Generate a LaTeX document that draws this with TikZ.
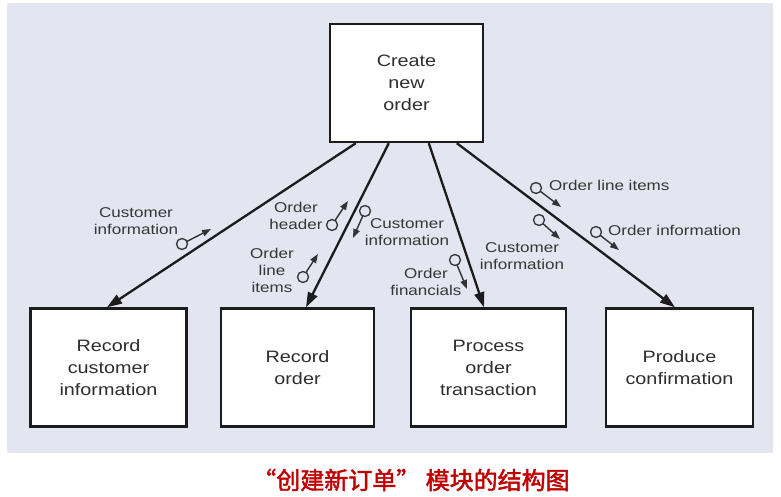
\documentclass[tikz,border=0pt]{standalone}
\usepackage{fontspec}
\setmainfont{Liberation Sans}[FakeStretch=1.2]
\newfontfamily\cjk{Noto Sans CJK SC}[FakeBold=2]
\usetikzlibrary{arrows.meta}
\definecolor{panel}{HTML}{E3E5F0}
\definecolor{ink}{HTML}{1C1C1C}
\definecolor{capred}{HTML}{C00000}

\begin{document}
\begin{tikzpicture}[x=1pt, y=-1pt,
    module/.style={draw=ink, line width=2.4pt, fill=white, inner sep=0pt, minimum height=118pt, align=center, text=ink!92, font=\fontsize{16.5}{22}\selectfont},
    call/.style={draw=ink, line width=2.3pt, -{Triangle[length=15pt, width=10pt]}},
    dot/.style={draw=ink!90, circle, line width=1.3pt, minimum size=11pt, inner sep=0pt},
    flow/.style={draw=ink!90, line width=1.4pt, shorten <=-0.5pt, -{Triangle[length=9pt, width=6.5pt]}},
    lbl/.style={text=ink!88, align=center, inner sep=0pt, font=\fontsize{14.2}{17}\selectfont}]
    \useasboundingbox (0,0) rectangle (781,497);
    \fill[panel] (7,3) rectangle (773,453);

    \node[module, minimum width=153pt] (create) at (406.5,83) {Create\\new\\order};
    \node[module, minimum width=156pt] (cust) at (108.5,367.5) {Record\\customer\\information};
    \node[module, minimum width=153pt] (rec) at (297.5,367.5) {Record\\order};
    \node[module, minimum width=155pt] (proc) at (488.5,367.5) {Process\\order\\transaction};
    \node[module, minimum width=147pt] (conf) at (679.5,367.5) {Produce\\confirmation};

    \draw[call] ([xshift=27pt]create.south west) -- ([xshift=-1.5pt]cust.north);
    \draw[call] ([xshift=60pt]create.south west) -- ([xshift=8.5pt]rec.north);
    \draw[call] ([xshift=100pt]create.south west) -- ([xshift=-4.5pt]proc.north);
    \draw[call] ([xshift=128pt]create.south west) -- ([xshift=-4.5pt]conf.north);

    \node[dot] (d1) at (182,244) {};
    \coordinate (t1) at (211,229);
    \draw[flow] (d1) -- (t1);
    \node[lbl] (l1) at (136,221) {Customer\\information};

    \node[dot] (d2) at (332,225) {};
    \coordinate (t2) at (348,201);
    \draw[flow] (d2) -- (t2);
    \node[lbl] (l2) at (296,216) {Order\\header};

    \node[dot] (d3) at (303,277) {};
    \coordinate (t3) at (318,254);
    \draw[flow] (d3) -- (t3);
    \node[lbl] (l3) at (272,270) {Order\\line\\items};

    \node[dot] (d4) at (365,211) {};
    \coordinate (t4) at (353,238);
    \draw[flow] (d4) -- (t4);
    \node[lbl] (l4) at (407,232) {Customer\\information};

    \node[dot] (d5) at (455,260) {};
    \coordinate (t5) at (467,289);
    \draw[flow] (d5) -- (t5);
    \node[lbl] (l5) at (426,282) {Order\\financials};

    \node[dot] (d6) at (536,188) {};
    \coordinate (t6) at (561,207);
    \draw[flow] (d6) -- (t6);
    \node[lbl, anchor=west] (l6) at (549,185) {Order line items};

    \node[dot] (d7) at (539,220) {};
    \coordinate (t7) at (560,239);
    \draw[flow] (d7) -- (t7);
    \node[lbl] (l7) at (522,256) {Customer\\information};

    \node[dot] (d8) at (596,232) {};
    \coordinate (t8) at (619,250);
    \draw[flow] (d8) -- (t8);
    \node[lbl, anchor=west] (l8) at (608,230) {Order information};

    \node[text=capred, font=\cjk\fontsize{24}{26}\selectfont] (title) at (411,480) {“创建新订单” 模块的结构图};
\end{tikzpicture}
\end{document}
